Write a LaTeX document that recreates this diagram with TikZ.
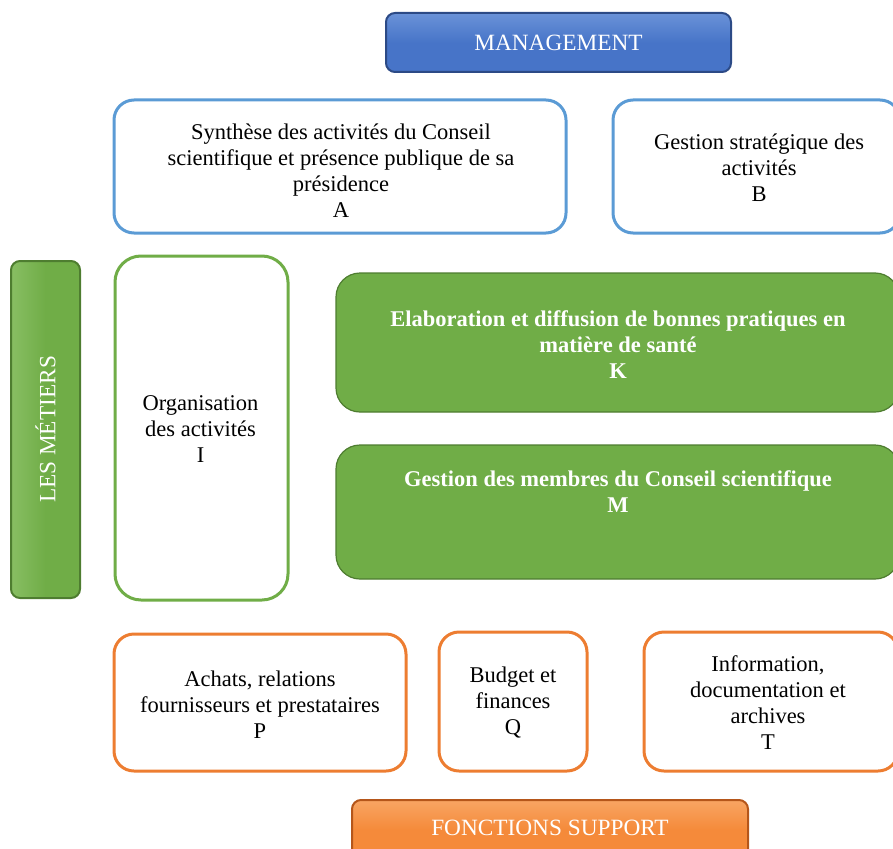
\documentclass[tikz,border=0pt]{standalone}
\usepackage{fontspec}
\setmainfont{Liberation Serif}
\definecolor{mgblue}{HTML}{4774C8}
\definecolor{mgbluedark}{HTML}{2C4A86}
\definecolor{mgbluelight}{HTML}{6A92D8}
\definecolor{lineblue}{HTML}{5B9BD5}
\definecolor{ogreen}{HTML}{70AD47}
\definecolor{ogreendark}{HTML}{4E7D30}
\definecolor{ogreenlight}{HTML}{88BE63}
\definecolor{oorange}{HTML}{ED7D31}
\definecolor{fsorange}{HTML}{F58A3A}
\definecolor{fsorangedark}{HTML}{B5561A}
\definecolor{fsorangelight}{HTML}{F8A563}
\begin{document}
\begin{tikzpicture}[x=1pt,y=-1pt,
  txt/.style={font=\fontsize{22.5}{26}\selectfont, align=center, inner sep=0pt},
  wtxt/.style={txt, text=white, font=\fontsize{23.3}{26}\selectfont},
  btxt/.style={txt, text=white, font=\fontsize{22.5}{26}\selectfont\bfseries},
  outbox/.style={draw=#1, line width=3pt, rounded corners=20pt, fill=white, inner sep=0pt},
  fillbox/.style={draw=ogreendark, line width=1.2pt, fill=ogreen, rounded corners=24pt, inner sep=0pt},
  button/.style n args={3}{draw=#2, line width=2pt, top color=#3, bottom color=#1, middle color=#1, shading angle=0, rounded corners=9pt, inner sep=0pt}
]
\useasboundingbox (0,0) rectangle (893,848);
\clip (0,0) rectangle (893,848);

% header button
\node[button={mgblue}{mgbluedark}{mgbluelight}, minimum width=345, minimum height=59] (mgmt) at (558.5,42.5) {};
\node[wtxt] (mgmtt) at (mgmt.center) {MANAGEMENT};

% management boxes
\node[outbox=lineblue, minimum width=452, minimum height=133] (A) at (340,166.5) {};
\node[txt] (At) at (341,170.5) {Synthèse des activités du Conseil\\scientifique et présence publique de sa\\présidence\\A};
\node[outbox=lineblue, minimum width=287, minimum height=133] (B) at (756.5,166.5) {};
\node[txt] (Bt) at (759,167.5) {Gestion stratégique des\\activités\\B};

% métiers
\node[button={ogreen}{ogreendark}{ogreenlight}, shading angle=90, minimum width=69, minimum height=337] (met) at (45.5,429.5) {};
\node[wtxt, rotate=90] (mett) at (met.center) {LES MÉTIERS};
\node[outbox=ogreen, rounded corners=26pt, minimum width=173, minimum height=344] (I) at (201.5,428) {};
\node[txt] (It) at (200.5,429.5) {Organisation\\des activités\\I};
\node[fillbox, minimum width=563, minimum height=139] (K) at (617.5,342.5) {};
\node[btxt] (Kt) at (618,344.5) {Elaboration et diffusion de bonnes pratiques en\\matière de santé\\K};
\node[fillbox, minimum width=563, minimum height=134] (M) at (617.5,512) {};
\node[btxt] (Mt) at (618,492) {Gestion des membres du Conseil scientifique\\M};

% support boxes
\node[outbox=oorange, minimum width=292, minimum height=137] (P) at (260,702.5) {};
\node[txt] (Pt) at (260,704.5) {Achats, relations\\fournisseurs et prestataires\\P};
\node[outbox=oorange, minimum width=148, minimum height=139] (Q) at (513,701.5) {};
\node[txt] (Qt) at (513,703) {Budget et\\finances\\Q};
\node[outbox=oorange, minimum width=254, minimum height=139] (T) at (771,701.5) {};
\node[txt] (Tt) at (768,703) {Information,\\documentation et\\archives\\T};

% footer button
\node[button={fsorange}{fsorangedark}{fsorangelight}, minimum width=396, minimum height=60] (fs) at (550,830) {};
\node[wtxt] (fst) at (550,828) {FONCTIONS SUPPORT};
\end{tikzpicture}
\end{document}
